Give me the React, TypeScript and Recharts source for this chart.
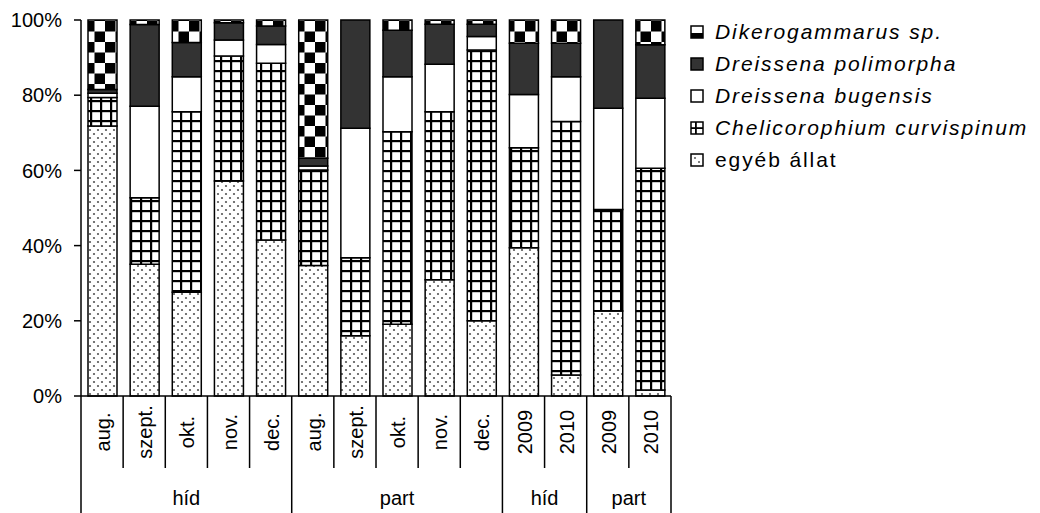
import { Bar, BarChart, XAxis, YAxis } from "recharts";

const categories = ["aug.", "szept.", "okt.", "nov.", "dec.", "aug.", "szept.", "okt.", "nov.", "dec.", "2009", "2010", "2009", "2010"];
const groups = ["híd", "híd", "híd", "híd", "híd", "part", "part", "part", "part", "part", "híd", "híd", "part", "part"];

const egyeb = [71.8, 35.0, 27.6, 57.2, 41.5, 34.7, 16.0, 19.1, 30.9, 20.0, 39.4, 5.6, 22.6, 1.6];
const cheli = [7.6, 17.7, 48.0, 33.2, 47.0, 25.4, 20.8, 51.2, 44.7, 72.0, 26.6, 67.4, 27.0, 59.0];
const bugensis = [1.1, 24.3, 9.3, 4.3, 5.0, 1.1, 34.4, 14.6, 12.6, 3.6, 14.2, 11.9, 26.9, 18.6];
const polimorpha = [1.0, 21.7, 9.1, 4.6, 4.9, 2.0, 28.8, 12.4, 10.7, 3.3, 13.6, 8.9, 23.5, 14.2];
const diker = [18.5, 1.2, 6.0, 0.7, 1.6, 36.8, 0, 2.7, 1.1, 1.1, 6.2, 6.2, 0, 6.6];

const yTicks = [0, 0.2, 0.4, 0.6, 0.8, 1];

const data = categories.map((c, i) => ({
  key: String(i),
  label: c,
  egyeb: egyeb[i],
  cheli: cheli[i],
  bugensis: bugensis[i],
  polimorpha: polimorpha[i],
  diker: diker[i],
}));

const W = 1040;
const H = 513;
const PLOT_LEFT = 81;
const PLOT_RIGHT = 671;
const AXIS_Y = 396;
const BAND = (PLOT_RIGHT - PLOT_LEFT) / categories.length;
const FONT = "'Liberation Sans', Arial, sans-serif";

const legendItems = [
  { name: "Dikerogammarus sp.", fill: "url(#legendDiker)", italic: true },
  { name: "Dreissena polimorpha", fill: "#333333", italic: true },
  { name: "Dreissena bugensis", fill: "#ffffff", italic: true },
  { name: "Chelicorophium curvispinum", fill: "url(#legendGrid)", italic: true },
  { name: "egyéb állat", fill: "url(#legendDots)", italic: false },
];

const CategoryTick = (props: any) => {
  const { x, index } = props;
  const left = x - BAND / 2;
  const isGroupStart = index === 0 || groups[index] !== groups[index - 1];
  let end = index;
  while (end + 1 < groups.length && groups[end + 1] === groups[index]) end++;
  const last = index === categories.length - 1;
  return (
    <g>
      <line x1={left} x2={left} y1={AXIS_Y} y2={isGroupStart ? H : 468} stroke="#000" strokeWidth={1.5} />
      {last && <line x1={x + BAND / 2} x2={x + BAND / 2} y1={AXIS_Y} y2={H} stroke="#000" strokeWidth={1.5} />}
      <text
        transform={`translate(${x + 1},${432}) rotate(-90)`}
        textAnchor="middle"
        dominantBaseline="central"
        fontSize={20}
        fontFamily={FONT}
        fill="#000"
      >
        {categories[index]}
      </text>
      {isGroupStart && (
        <text x={x + ((end - index) * BAND) / 2} y={505} textAnchor="middle" fontSize={20} fontFamily={FONT} fill="#000">
          {groups[index]}
        </text>
      )}
    </g>
  );
};

const Patterns = () => (
  <defs>
    <pattern id="dots" width="8" height="8" patternUnits="userSpaceOnUse">
      <rect width="8" height="8" fill="#fff" />
      <circle cx="2" cy="2" r="1.1" fill="#555" />
      <circle cx="6" cy="6" r="1.1" fill="#555" />
    </pattern>
    <pattern id="grid" width="10" height="10" patternUnits="userSpaceOnUse">
      <rect width="10" height="10" fill="#fff" />
      <rect x="0" y="0" width="2.2" height="10" fill="#000" />
      <rect x="0" y="0" width="10" height="2.2" fill="#000" />
    </pattern>
    <pattern id="checker" width="21" height="21" patternUnits="userSpaceOnUse">
      <rect width="21" height="21" fill="#fff" />
      <rect x="0" y="0" width="10.5" height="10.5" fill="#000" />
      <rect x="10.5" y="10.5" width="10.5" height="10.5" fill="#000" />
    </pattern>
  </defs>
);

const LegendPatterns = () => (
  <svg width={0} height={0} style={{ position: "absolute" }}>
    <defs>
      <pattern id="legendDiker" width="14" height="14" patternUnits="userSpaceOnUse">
        <rect width="14" height="14" fill="#fff" />
        <rect x="0" y="8" width="14" height="6" fill="#000" />
      </pattern>
      <pattern id="legendGrid" width="14" height="14" patternUnits="userSpaceOnUse">
        <rect width="14" height="14" fill="#fff" />
        <rect x="5" y="0" width="1.8" height="14" fill="#000" />
        <rect x="0" y="6.2" width="14" height="1.8" fill="#000" />
      </pattern>
      <pattern id="legendDots" width="14" height="14" patternUnits="userSpaceOnUse">
        <rect width="14" height="14" fill="#fff" />
        <circle cx="5" cy="5" r="1" fill="#555" />
        <circle cx="9" cy="9" r="1" fill="#555" />
      </pattern>
    </defs>
  </svg>
);

export default function App() {
  return (
    <div style={{ position: "absolute", left: 0, top: 0, width: W, height: H, background: "#fff", fontFamily: FONT }}>
      <BarChart
        width={W}
        height={H}
        data={data}
        stackOffset="expand"
        barSize={29}
        margin={{ top: 20, right: W - PLOT_RIGHT, bottom: 0, left: 0 }}
      >
        <Patterns />
        <XAxis
          dataKey="key"
          height={H - AXIS_Y}
          tickLine={false}
          axisLine={{ stroke: "#000", strokeWidth: 1.5 }}
          tick={<CategoryTick />}
          interval={0}
        />
        <YAxis
          width={PLOT_LEFT}
          domain={[0, 1]}
          ticks={yTicks}
          tickFormatter={(v: number) => `${Math.round(v * 100)}%`}
          tick={{ fontSize: 20, fill: "#000", fontFamily: FONT }}
          tickSize={7}
          tickMargin={12}
          tickLine={{ stroke: "#000", strokeWidth: 1.5 }}
          axisLine={{ stroke: "#000", strokeWidth: 1.5 }}
        />
        <Bar dataKey="egyeb" stackId="a" fill="url(#dots)" stroke="#000" strokeWidth={1.5} isAnimationActive={false} />
        <Bar dataKey="cheli" stackId="a" fill="url(#grid)" stroke="#000" strokeWidth={1.5} isAnimationActive={false} />
        <Bar dataKey="bugensis" stackId="a" fill="#fff" stroke="#000" strokeWidth={1.5} isAnimationActive={false} />
        <Bar dataKey="polimorpha" stackId="a" fill="#333333" stroke="#000" strokeWidth={1.5} isAnimationActive={false} />
        <Bar dataKey="diker" stackId="a" fill="url(#checker)" stroke="#000" strokeWidth={1.5} isAnimationActive={false} />
      </BarChart>
      <LegendPatterns />
      <div style={{ position: "absolute", left: 690, top: 16 }}>
        {legendItems.map((it) => (
          <div key={it.name} style={{ display: "flex", alignItems: "center", height: 32 }}>
            <svg width={14} height={14} style={{ marginRight: 11 }}>
              <rect x={1} y={1} width={12} height={12} fill={it.fill} stroke="#000" strokeWidth={1.5} />
            </svg>
            <span style={{ fontSize: 21, fontStyle: it.italic ? "italic" : "normal", letterSpacing: 1.9, whiteSpace: "nowrap" }}>
              {it.name}
            </span>
          </div>
        ))}
      </div>
    </div>
  );
}
